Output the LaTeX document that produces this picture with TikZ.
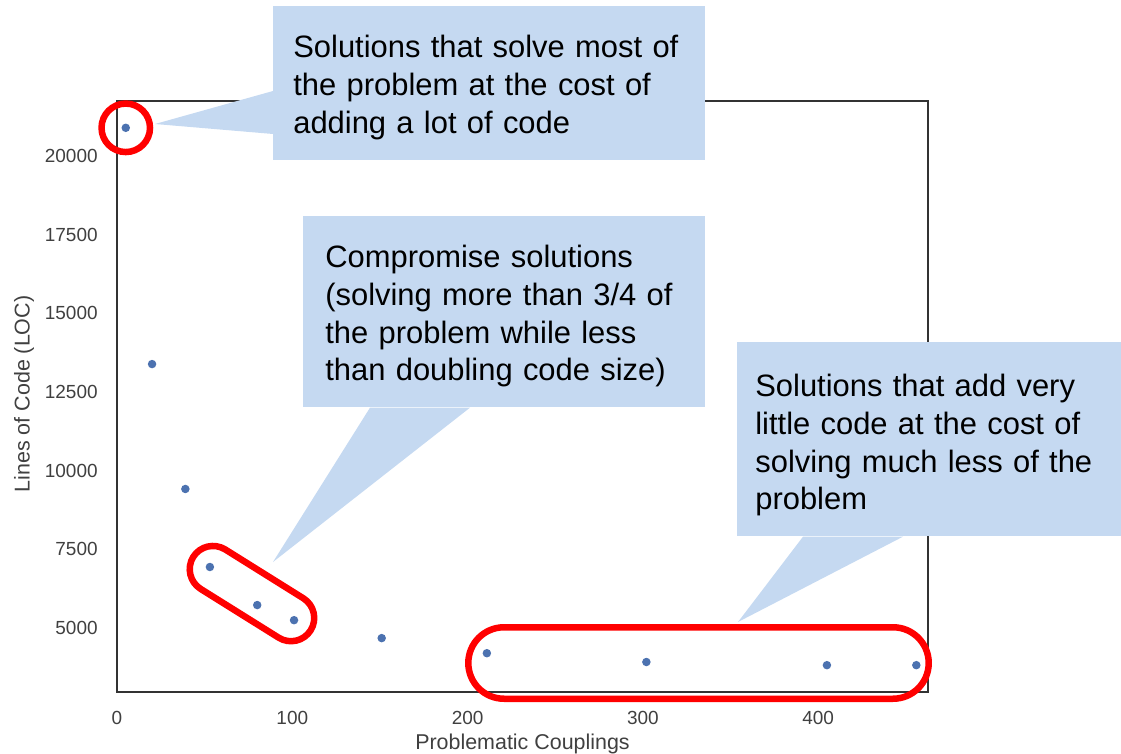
\documentclass[tikz,border=0pt]{standalone}
\usepackage{fontspec}
\setmainfont{Liberation Sans}
\usepackage{tikz}
\usetikzlibrary{calc,shapes.misc}
\definecolor{ptblue}{RGB}{76,114,176}
\definecolor{boxblue}{RGB}{197,217,241}
\definecolor{axisgray}{RGB}{64,64,64}
\definecolor{markred}{RGB}{255,0,0}

\begin{document}
\begin{tikzpicture}[x=0.02cm, y=-0.02cm,
  pt/.style={circle, fill=ptblue, inner sep=0pt, minimum size=0.17cm},
  ticklab/.style={text=axisgray, font=\fontsize{10.8}{13}\selectfont, inner sep=0pt},
  axlab/.style={text=axisgray, font=\fontsize{12.2}{14}\selectfont, inner sep=0pt},
  ring/.style={draw=markred, line width=0.13cm, inner sep=0pt},
  callbox/.style={fill=boxblue, anchor=north west, inner ysep=0pt, align=left,
    font=\fontsize{17.6}{21.54}\selectfont}]
\useasboundingbox (0,0) rectangle (1121,753);

% Scatter plot (couplings vs. kLOC)
\begin{scope}[shift={(117,785.33)}, x=0.03506cm, y=0.62934cm]
\draw[black!80, line width=0.04cm] (0,2.966) rectangle (462.6,21.748);

\foreach \v/\lab in {5/5000,7.5/7500,10/10000,12.5/12500,15/15000,17.5/17500,20/20000}
  \node[ticklab, left=0.38cm] at (0,\v) {\lab};
\foreach \x in {0,100,...,400}
  \node[ticklab, below=0.38cm] at (\x,2.966) {\x};

\node[pt] (p1) at (5,20.9) {};
\node[pt] (p2) at (20,13.39) {};
\node[pt] (p3) at (39,9.42) {};
\node[pt] (p4) at (53,6.94) {};
\node[pt] (p5) at (80,5.73) {};
\node[pt] (p6) at (101,5.25) {};
\node[pt] (p7) at (151,4.68) {};
\node[pt] (p8) at (211,4.2) {};
\node[pt] (p9) at (302,3.92) {};
\node[pt] (p10) at (405,3.82) {};
\node[pt] (p11) at (456,3.82) {};
\end{scope}

% Axis labels
\node[axlab, anchor=base] (xlab) at (522.5,749) {Problematic Couplings};
\node[axlab, rotate=90] (ylab) at (24,394) {Lines of Code (LOC)};

% Red marks round the groups
\node[ring, circle, minimum size=0.97cm] (grp1) at (p1) {};
\node[ring, rounded rectangle, minimum width=2.77cm, minimum height=0.93cm,
  rotate=-32] (grp2) at ($(p4)!0.5!(p6)$) {};
\node[ring, rounded rectangle, minimum width=9.21cm, minimum height=1.43cm]
  (grp3) at (698.5,663) {};

% Callouts
\coordinate (tip1) at (155,124);
\coordinate (tip2) at (273,562);
\coordinate (tip3) at (738,622);

\node[callbox, text width=7.84cm, inner xsep=0.4cm, text height=1.02cm, text depth=2.06cm]
  (c1) at (273,6) {Solutions that solve most of\\the problem at the cost of\\adding a lot of code};
\fill[boxblue] ($(c1.north west)+(0,85)$) -- (tip1) -- ($(c1.north west)+(0,128)$) -- cycle;

\node[callbox, text width=7.16cm, inner xsep=0.44cm, text height=1.02cm, text depth=2.8cm]
  (c2) at (303,216) {Compromise solutions\\(solving more than 3/4 of\\the problem while less\\than doubling code size)};
\fill[boxblue] ($(c2.south west)+(67,0)$) -- (tip2) -- ($(c2.south west)+(167,0)$) -- cycle;

\node[callbox, text width=6.96cm, inner xsep=0.36cm, text height=1.08cm, text depth=2.8cm]
  (c3) at (737,342) {Solutions that add very\\little code at the cost of\\solving much less of the\\problem};
\fill[boxblue] ($(c3.south west)+(66,0)$) -- (tip3) -- ($(c3.south west)+(166,0)$) -- cycle;
\end{tikzpicture}
\end{document}
